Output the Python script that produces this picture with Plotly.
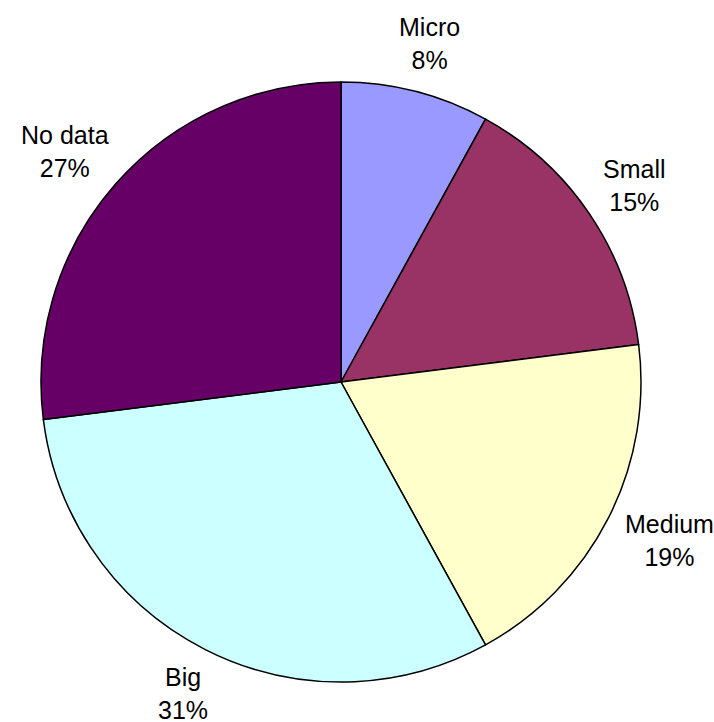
import math
import plotly.graph_objects as go

labels = ["Micro", "Small", "Medium", "Big", "No data"]
values = [8, 15, 19, 31, 27]
colors = ["#9999FF", "#993366", "#FFFFCC", "#CCFFFF", "#660066"]

W, H = 714, 722
CX, CY, R = 341, 382, 300      # pie centre and radius in pixels
LABEL_GAP = 24                  # gap between pie edge and label box
FONT_SIZE = 25
LINE_H = 1.3 * FONT_SIZE
CAP_H = 0.716 * FONT_SIZE

# Arial / Liberation Sans advance widths (per 1000 em) for width estimates
CHAR_W = {"M": 833, "i": 222, "c": 500, "r": 333, "o": 556, "S": 667, "m": 833,
          "a": 556, "l": 222, "e": 556, "d": 556, "u": 556, "B": 667, "g": 556,
          "N": 722, " ": 278, "t": 278, "%": 889}


def text_width(s):
    return sum(CHAR_W.get(ch, 556) for ch in s) * FONT_SIZE / 1000


fig = go.Figure(go.Pie(
    labels=labels,
    values=values,
    sort=False,
    direction="clockwise",
    rotation=0,
    marker=dict(colors=colors, line=dict(color="black", width=1.5)),
    textinfo="none",
    domain=dict(x=[(CX - R) / W, (CX + R) / W], y=[1 - (CY + R) / H, 1 - (CY - R) / H]),
    showlegend=False,
    hoverinfo="label+percent",
))

total = sum(values)
cum = 0
annotations = []
for lab, v in zip(labels, values):
    mid = (cum + v / 2) / total * 2 * math.pi
    cum += v
    pct = round(100 * v / total)
    lines = [lab, f"{pct}%"]
    w = max(text_width(s) for s in lines)
    h = CAP_H + LINE_H * (len(lines) - 1)   # visual height: cap top to last baseline
    s, c = math.sin(mid), math.cos(mid)
    ax = CX + (R + LABEL_GAP) * s + s * w / 2
    ay = CY - (R + LABEL_GAP) * c - c * h / 2
    annotations.append(dict(
        x=ax / W, y=1 - ay / H, xref="paper", yref="paper",
        text="<br>".join(lines), showarrow=False,
        xanchor="center", yanchor="middle",
        font=dict(family="Liberation Sans, Arial, sans-serif", size=FONT_SIZE, color="black"),
    ))

fig.update_layout(
    width=W, height=H,
    margin=dict(l=0, r=0, t=0, b=0),
    paper_bgcolor="white",
    plot_bgcolor="white",
    annotations=annotations,
)
fig.write_html("out.html")
